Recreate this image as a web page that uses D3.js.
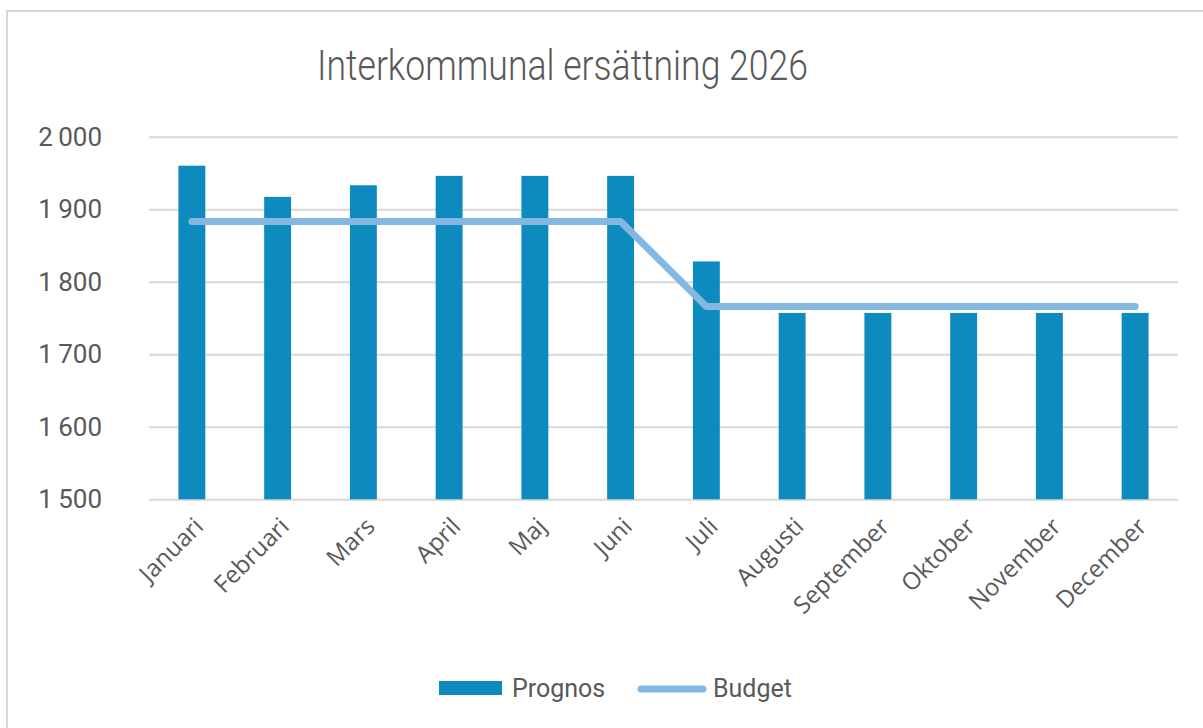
<!DOCTYPE html>
<html>
<head>
<meta charset="utf-8">
<script src="https://cdn.jsdelivr.net/npm/d3@7"></script>
<style>
  body { margin: 0; background: #fff; }
  text { font-family: Roboto, "Liberation Sans", sans-serif; fill: #595959; }
</style>
</head>
<body>
<script>
// chart data
var months = ["Januari", "Februari", "Mars", "April", "Maj", "Juni", "Juli",
              "Augusti", "September", "Oktober", "November", "December"];
var prognos = [1960, 1917, 1933, 1946, 1946, 1946, 1828, 1757, 1757, 1757, 1757, 1757];
var budget = [1883, 1883, 1883, 1883, 1883, 1883, 1766, 1766, 1766, 1766, 1766, 1766];
var yTicks = [1500, 1600, 1700, 1800, 1900, 2000];
var title = "Interkommunal ersättning 2026";
var legendNames = ["Prognos", "Budget"];

var w = 1203, h = 728;
var barColor = "#0e8bbe", lineColor = "#85b8e0", gridColor = "#d9d9d9";

var svg = d3.select("body").append("svg")
  .attr("width", w)
  .attr("height", h);

// outer chart border
svg.append("rect")
  .attr("x", 7).attr("y", 11)
  .attr("width", 1220).attr("height", 740)
  .attr("fill", "none")
  .attr("stroke", gridColor)
  .attr("stroke-width", 2);

var x = d3.scaleBand().domain(months).range([149, 1178]).paddingInner(0.686).paddingOuter(0.343);
var xc = d3.scaleBand().domain(months).range([149, 1178]);
var y = d3.scaleLinear().domain([1500, 2000]).range([499.3, 136.7]);

var fmt = d3.formatLocale({decimal: ",", thousands: "\u2009", grouping: [3], currency: ["", " kr"]}).format(",d");

// gridlines + y labels
var yAxis = svg.append("g")
  .attr("transform", "translate(149,0)")
  .call(d3.axisLeft(y).tickValues(yTicks).tickSize(-1029).tickPadding(47).tickFormat(fmt));
yAxis.select(".domain").remove();
yAxis.selectAll("line").attr("stroke", gridColor).attr("stroke-width", 2);
yAxis.selectAll("text")
  .attr("fill", "#595959")
  .style("font-size", "26px")
  .style("font-family", "Roboto, 'Liberation Sans', sans-serif");

// bars
svg.append("g").selectAll("rect")
  .data(prognos)
  .enter()
  .append("rect")
  .attr("x", function(d, i){ return x(months[i]); })
  .attr("y", function(d){ return y(d); })
  .attr("width", x.bandwidth())
  .attr("height", function(d){ return y(1500) - y(d); })
  .attr("fill", barColor);

// budget line
var line = d3.line()
  .x(function(d, i){ return xc(months[i]) + xc.bandwidth() / 2; })
  .y(function(d){ return y(d); });
svg.append("path")
  .datum(budget)
  .attr("d", line)
  .attr("fill", "none")
  .attr("stroke", lineColor)
  .attr("stroke-width", 7)
  .attr("stroke-linecap", "round")
  .attr("stroke-linejoin", "round");

// x labels
svg.append("g").selectAll("text")
  .data(months)
  .enter()
  .append("text")
  .attr("transform", function(d){
    return "translate(" + (xc(d) + xc.bandwidth() / 2 + 7) + ",522) rotate(-45)";
  })
  .attr("text-anchor", "end")
  .attr("dy", "0.35em")
  .style("font-family", "'Open Sans', sans-serif")
  .style("font-size", "24px")
  .text(function(d){ return d; });

// title
svg.append("text")
  .attr("x", 317).attr("y", 80)
  .attr("textLength", 491)
  .attr("lengthAdjust", "spacingAndGlyphs")
  .style("font-size", "42px")
  .style("font-weight", 300)
  .text(title);

// legend
var lg = svg.append("g");
lg.append("rect")
  .attr("x", 439).attr("y", 681)
  .attr("width", 63).attr("height", 14)
  .attr("fill", barColor);
lg.append("text")
  .attr("x", 512).attr("y", 697)
  .style("font-size", "25px")
  .text(legendNames[0]);
lg.append("line")
  .attr("x1", 641).attr("x2", 703)
  .attr("y1", 689).attr("y2", 689)
  .attr("stroke", lineColor)
  .attr("stroke-width", 7)
  .attr("stroke-linecap", "round");
lg.append("text")
  .attr("x", 713).attr("y", 697)
  .style("font-size", "25px")
  .text(legendNames[1]);
</script>
</body>
</html>
